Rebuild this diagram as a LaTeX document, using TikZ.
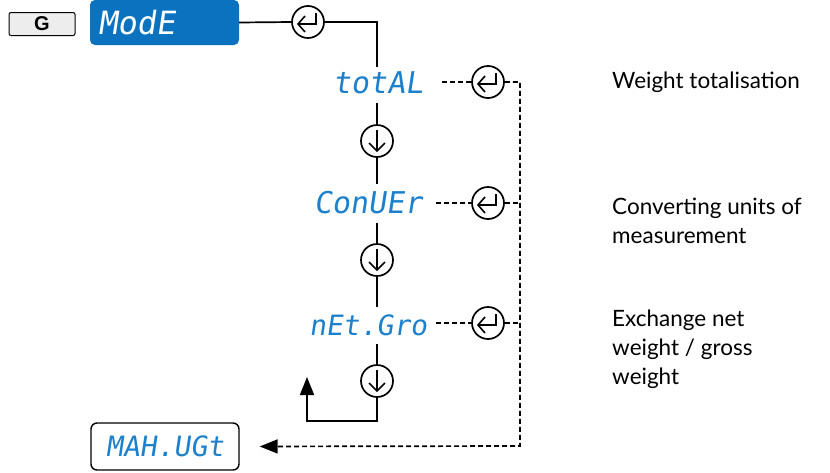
\documentclass[tikz,border=0pt]{standalone}
\usepackage{fontspec}
\setmainfont{Lato}
\newfontfamily\segfont[FakeSlant=0.15]{DejaVu Sans Mono}
\newfontfamily\btnfont{Liberation Sans}
\usetikzlibrary{arrows.meta,calc}
\definecolor{dispblue}{RGB}{10,114,190}
\definecolor{segblue}{RGB}{28,128,204}
\tikzset{
  circ/.style={circle, draw, line width=1.7pt, minimum size=32pt, inner sep=0pt},
  segtext/.style={text=segblue, inner sep=0pt, font=\segfont\fontsize{#1}{#1}\selectfont},
  desc/.style={font=\fontsize{22.5}{29}\selectfont, align=left, anchor=west, inner sep=0pt},
  dashline/.style={line width=1.7pt, dash pattern=on 5pt off 3pt},
  solidline/.style={line width=1.7pt},
  bigtip/.style={-{Triangle[length=18pt,width=14pt]}},
  entersym/.pic={
    \draw[line width=1.6pt, line join=miter] (8,-9) -- (8,2) -- (-10,2);
    \draw[line width=1.6pt] (-3,-6) -- (-10,2) -- (-3,10);
  },
  downsym/.pic={
    \draw[line width=1.6pt] (0,-11) -- (0,10);
    \draw[line width=1.6pt] (-8,2) -- (0,10) -- (8,2);
  }
}
\begin{document}
\begin{tikzpicture}[x=1pt,y=-1pt]
\useasboundingbox (0,0) rectangle (830,472);

% G key and mode display
\node[draw, line width=1pt, rounded corners=2pt, fill=black!7, minimum width=66pt, minimum height=23pt, inner sep=0pt] (g) at (42,24) {\btnfont\fontsize{20}{20}\selectfont\bfseries G};
\node[fill=dispblue, rounded corners=5pt, minimum width=149pt, minimum height=45pt, text width=133pt, inner sep=8pt, align=left, text=white, font=\segfont\fontsize{32}{32}\selectfont] (mode) at (164.5,22.5) {ModE};

% enter circles
\node[circ] (e0) at (308,22) {}; \pic at (e0) {entersym};
\node[circ] (e1) at (488,82) {}; \pic at (e1) {entersym};
\node[circ] (e2) at (488,203) {}; \pic at (e2) {entersym};
\node[circ] (e3) at (488,323) {}; \pic at (e3) {entersym};

% menu items
\node[segtext=30] (total) at (378,83) {totAL};
\node[segtext=30] (conv) at (368,203) {ConUEr};
\node[segtext=28] (netg) at (368,325) {nEt.Gro};

% down circles
\node[circ] (d1) at (377,141) {}; \pic at (d1) {downsym};
\node[circ] (d2) at (377,260) {}; \pic at (d2) {downsym};
\node[circ] (d3) at (377,381) {}; \pic at (d3) {downsym};

% max weight display
\node[draw, line width=1.4pt, rounded corners=6pt, minimum width=148pt, minimum height=47pt, inner sep=0pt, segtext=28] (maxw) at (165,446.5) {MAH.UGt};

% descriptions
\node[desc] (t1) at (612,82) {Weight totalisation};
\node[desc] (t2) at (612,221) {Converting units of\\measurement};
\node[desc] (t3) at (612,349) {Exchange net\\weight / gross\\weight};

% solid connectors
\draw[solidline] (mode.east) -- (e0.west);
\draw[solidline] (e0.east) -| ($(d1.north |- total.north)+(0,-5)$);
\draw[solidline] ($(d1.north |- total.south)+(0,9)$) -- (d1.north);
\draw[solidline] (d1.south) -- ($(d1.south |- conv.north)+(0,-7)$);
\draw[solidline] ($(d2.north |- conv.south)+(0,8)$) -- (d2.north);
\draw[solidline] (d2.south) -- ($(d2.south |- netg.north)+(0,-7)$);
\draw[solidline] ($(d3.north |- netg.south)+(0,8)$) -- (d3.north);
\coordinate (loopend) at (307,377);
\draw[solidline, bigtip] (d3.south) -- ++(0,23) -| (loopend);

% dashed connectors
\coordinate (rb) at (520,446);
\draw[dashline] ($(e1.west)+(-29,0)$) -- (e1.west);
\draw[dashline] ($(e2.west)+(-35,0)$) -- (e2.west);
\draw[dashline] ($(e3.west)+(-35,0)$) -- (e3.west);
\draw[dashline] (e2.east) -- (e2.east -| rb);
\draw[dashline] (e3.east) -- (e3.east -| rb);
\draw[dashline, bigtip, shorten >=20pt] (e1.east) -| (rb) -- (maxw.east);
\end{tikzpicture}
\end{document}
